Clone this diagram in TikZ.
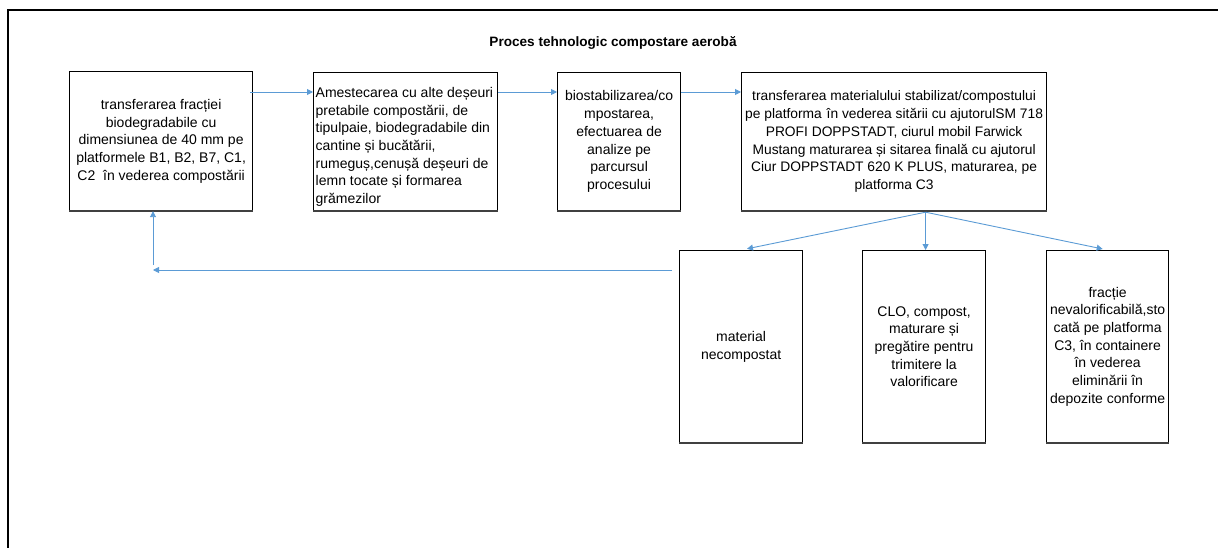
\documentclass[tikz,border=0pt]{standalone}
\usepackage{fontspec}
\setmainfont{Liberation Sans}
\usetikzlibrary{arrows.meta,calc}
\definecolor{flow}{HTML}{5B9BD5}
\newcommand\boxfont{\fontsize{14}{17.7}\selectfont}
\newcommand\widefont{\fontsize{13.8}{17.7}\selectfont}
\begin{document}
\begin{tikzpicture}[x=1pt,y=-1pt,
  stage/.style={draw=black, line width=1.2pt, inner sep=0pt, anchor=north west,
    align=center, font=\boxfont},
  plain/.style={inner sep=0pt, font=\boxfont},
  bottomedge/.style={draw=black!75, line width=2.4pt},
  arr/.style={draw=flow, line width=0.9pt, -{Triangle[length=6pt,width=6pt]}},
  frame/.style={draw=black, line width=1.6pt}]
\useasboundingbox (0,0) rectangle (1218,548);

% page frame (open at right and bottom)
\draw[frame] (8,548) -- (8,10) -- (1218,10);

% title
\node[font=\bfseries\fontsize{13.6}{16}\selectfont] (title) at (613,43)
  {Proces tehnologic compostare aerobă};

% process stages, top row
\node[stage, minimum width=183pt, minimum height=139pt] (b1) at (69,71)
  {transferarea fracției\\biodegradabile cu\\dimensiunea de 40 mm pe\\platformele B1, B2, B7, C1,\\C2\ \ în vederea compostării};
\node[stage, minimum width=184pt, minimum height=138pt] (b2) at (313,72) {};
\node[plain, anchor=north west, align=left] (b2t) at (315.5,87)
  {Amestecarea cu alte deșeuri\\pretabile compostării, de\\tipulpaie, biodegradabile din\\cantine și bucătării,\\rumeguș,cenușă deșeuri de\\lemn tocate și formarea\\grămezilor};
\node[stage, minimum width=123pt, minimum height=138pt] (b3) at (557,72)
  {biostabilizarea/co\\mpostarea,\\efectuarea de\\analize pe\\parcursul\\procesului};
\node[stage, minimum width=305pt, minimum height=138pt, font=\widefont] (b4) at (741,72)
  {transferarea materialului stabilizat/compostului\\pe platforma \hspace{1pt}în vederea sitării cu ajutorulSM 718\\PROFI DOPPSTADT, ciurul mobil Farwick\\Mustang maturarea și sitarea finală cu ajutorul\\Ciur DOPPSTADT 620 K PLUS, maturarea, pe\\platforma C3};

% output fractions, bottom row
\node[stage, minimum width=123pt, minimum height=192pt] (b5) at (679,250)
  {material\\necompostat};
\node[stage, minimum width=123pt, minimum height=192pt] (b6) at (862,250)
  {CLO, compost,\\maturare și\\pregătire pentru\\trimitere la\\valorificare};
\node[stage, minimum width=122pt, minimum height=192pt] (b7) at (1046,250)
  {fracție\\nevalorificabilă,sto\\cată pe platforma\\C3, în containere\\în vederea\\eliminării în\\depozite conforme};

% heavier lower edges of the boxes
\foreach \b in {b1,b2,b3,b4,b5,b6,b7}
  \draw[bottomedge] (\b.south west) -- (\b.south east);

% main flow
\coordinate (row) at (0,92);
\draw[arr] ($(b1.east |- row)+(-3,0)$) -- (b2.west |- row);
\draw[arr] (b2.east |- row) -- (b3.west |- row);
\draw[arr] (b3.east |- row) -- (b4.west |- row);

% split after screening
\coordinate (fan) at ($(b6.north |- b4.south)+(1.5,1)$);
\draw[arr, shorten >=6pt] (fan) -- (b5.north);
\draw[arr] (fan) -- (fan |- b6.north);
\draw[arr, shorten >=5pt] (fan) -- (b7.north);

% return of uncomposted material
\coordinate (loopstart) at (672,270);
\coordinate (loopend) at (153,270);
\draw[arr] (loopstart) -- (loopend);
\draw[arr] ($(loopend)+(0,-5)$) -- (loopend |- b1.south);
\end{tikzpicture}
\end{document}
